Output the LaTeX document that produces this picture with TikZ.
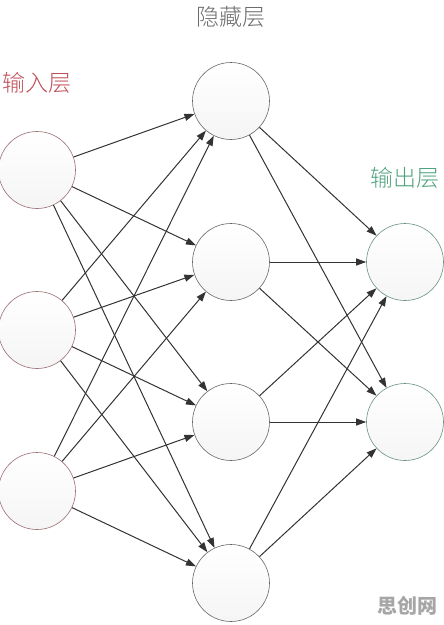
\documentclass[tikz,border=0pt]{standalone}
\usepackage{fontspec}
\newfontfamily\cjk{Noto Sans CJK SC}
\usetikzlibrary{arrows.meta}
\definecolor{inred}{HTML}{C0505A}
\definecolor{outgreen}{HTML}{4FA27E}
\definecolor{edgegray}{HTML}{333333}
\tikzset{
  neuron/.style={circle, minimum size=77pt, inner sep=0pt, draw=gray!80!black, line width=0.6pt, top color=white, bottom color=gray!8},
  inneuron/.style={neuron, draw=inred!40!gray},
  outneuron/.style={neuron, draw=outgreen!50!gray, bottom color=green!3!gray!8},
  conn/.style={draw=edgegray, line width=1pt, -{Triangle[length=10pt,width=7pt]}},
  lbl/.style={font=\cjk\light\fontsize{23pt}{25pt}\selectfont, inner sep=0pt}
}
\newfontfamily\light{Noto Sans CJK SC Light}
\begin{document}
\begin{tikzpicture}[x=1pt,y=-1pt]
\useasboundingbox (0,0) rectangle (444,625);
\node[inneuron] (i1) at (37,170) {};
\node[inneuron] (i2) at (37,330) {};
\node[inneuron] (i3) at (37,491) {};
\node[neuron] (h1) at (231,101) {};
\node[neuron] (h2) at (231,262) {};
\node[neuron] (h3) at (231,422) {};
\node[neuron] (h4) at (231,583) {};
\node[outneuron] (o1) at (405,262) {};
\node[outneuron] (o2) at (405,422) {};
\node[lbl, text=gray!85!black] (th) at (231,17) {隐藏层};
\node[lbl, text=inred] (ti) at (37,83) {输入层};
\node[lbl, text=outgreen] (to) at (405,178) {输出层};
\node[font=\cjk\bfseries\fontsize{20pt}{22pt}\selectfont, text=gray!70, inner sep=0pt] (wm) at (407,606) {思创网};
\foreach \i in {i1,i2,i3}{
  \foreach \h in {h1,h2,h3,h4}{
    \draw[conn] (\i) -- (\h);
  }
}
\foreach \h in {h1,h2,h3,h4}{
  \foreach \o in {o1,o2}{
    \draw[conn] (\h) -- (\o);
  }
}
\end{tikzpicture}
\end{document}
